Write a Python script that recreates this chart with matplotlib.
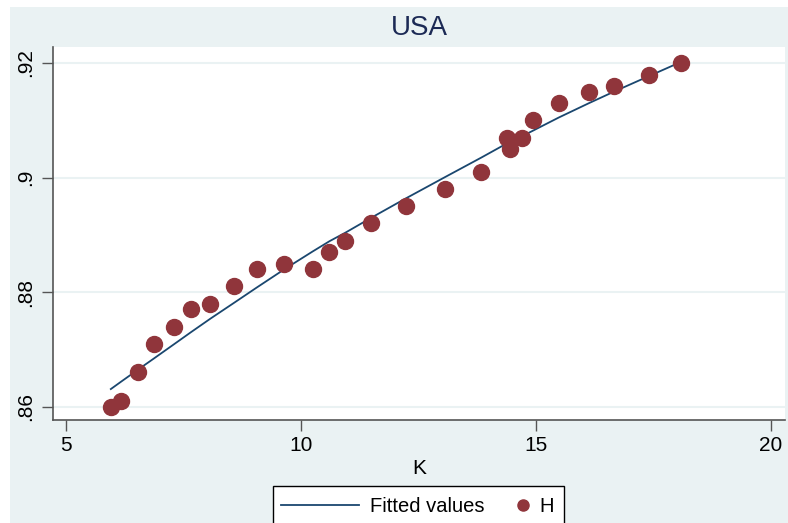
import matplotlib
matplotlib.use("Agg")
import matplotlib.pyplot as plt
from matplotlib.patches import Rectangle
from matplotlib.lines import Line2D

# USA: H against K, with fitted values
K = [5.96, 6.18, 6.54, 6.87, 7.30, 7.66, 8.08, 8.59, 9.06, 9.65, 10.25, 10.61, 10.95,
     11.50, 12.24, 13.07, 13.84, 14.39, 14.46, 14.70, 14.94, 15.49, 16.13, 16.66, 17.40, 18.09]
H = [0.860, 0.861, 0.866, 0.871, 0.874, 0.877, 0.878, 0.881, 0.884, 0.885, 0.884, 0.887, 0.889,
     0.892, 0.895, 0.898, 0.901, 0.907, 0.905, 0.907, 0.910, 0.913, 0.915, 0.916, 0.918, 0.920]
fitted = [0.8631, 0.8644, 0.8665, 0.8684, 0.8709, 0.8730, 0.8754, 0.8782, 0.8808, 0.8840, 0.8871,
          0.8889, 0.8904, 0.8930, 0.8964, 0.9001, 0.9035, 0.9060, 0.9063, 0.9072, 0.9082, 0.9105,
          0.9130, 0.9150, 0.9177, 0.9202]
xticks = [5, 10, 15, 20]
yticks = [0.86, 0.88, 0.90, 0.92]
ytick_labels = [".86", ".88", ".9", ".92"]

plt.rcParams['font.family'] = ['Liberation Sans', 'DejaVu Sans']

W, Hpx = 788, 523
bg = "#eaf2f3"
line_col = "#1a476f"
dot_col = "#90353b"

fig = plt.figure(figsize=(W / 100, Hpx / 100), dpi=100)
fig.patch.set_facecolor("white")
fig.patches.append(Rectangle((10 / W, 0), 1, 1 - 7 / Hpx, transform=fig.transFigure,
                             facecolor=bg, edgecolor="none", zorder=-10))

ax = fig.add_axes([53 / W, 1 - 420 / Hpx, (785 - 53) / W, (420 - 47) / Hpx])
ax.set_facecolor("white")

ax.plot(K, fitted, color=line_col, lw=1.3, zorder=3)
ax.plot(K, H, "o", color=dot_col, ms=11.5, mec=dot_col, zorder=4)

ax.set_xlim(4.73, 20.3)
ax.set_ylim(0.8577, 0.9228)
ax.set_xticks(xticks)
ax.set_yticks(yticks)
ax.set_yticklabels(ytick_labels, rotation=90, va="center")
ax.tick_params(axis="both", labelsize=15, color="#555555", length=8, width=1)
ax.tick_params(axis="y", pad=5)
ax.grid(axis="y", color=bg, lw=1.5)
ax.set_axisbelow(True)

for s in ["top", "right"]:
    ax.spines[s].set_visible(False)
for s in ["left", "bottom"]:
    ax.spines[s].set_color("#555555")
    ax.spines[s].set_linewidth(1.2)

ax.set_xlabel("K", fontsize=15, labelpad=3)
fig.text(419 / W, 1 - 28 / Hpx, "USA", ha="center", va="center", fontsize=20, color="#1c2a55")

# legend box drawn by hand (runs off the bottom edge like the original)
fy = lambda y: 1 - y / Hpx
fx = lambda x: x / W
fig.patches.append(Rectangle((fx(272.5), fy(535)), fx(564) - fx(272.5), fy(485.5) - fy(535),
                             transform=fig.transFigure, facecolor="white", edgecolor="black",
                             lw=1, zorder=5))
fig.lines.append(Line2D([fx(281), fx(359)], [fy(505), fy(505)], transform=fig.transFigure,
                        color=line_col, lw=1.3, zorder=6))
fig.text(fx(370), fy(506), "Fitted values", fontsize=14.5, va="center", ha="left", zorder=6)
fig.lines.append(Line2D([fx(523)], [fy(505)], transform=fig.transFigure, marker="o",
                        ms=8, color=dot_col, mec=dot_col, zorder=6))
fig.text(fx(539), fy(506), "H", fontsize=14.5, va="center", ha="left", zorder=6)

fig.savefig("out.png", dpi=100)
